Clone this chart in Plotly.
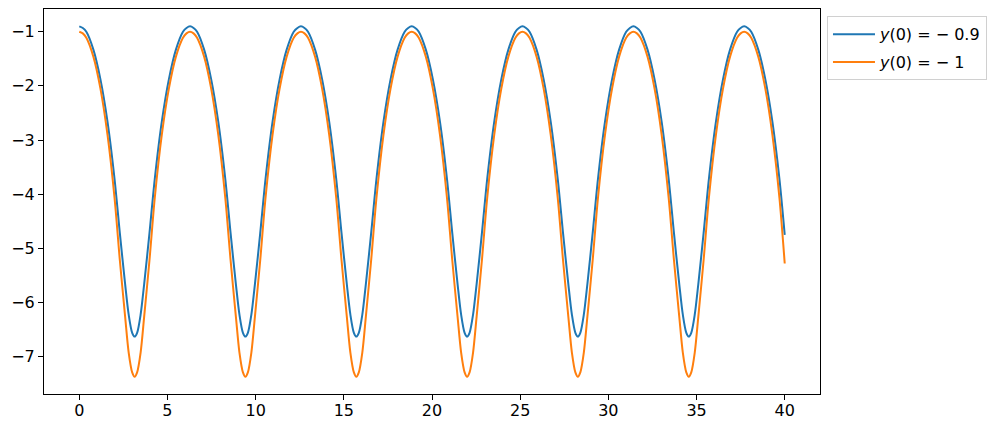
import plotly.graph_objects as go

# time samples (denser near each minimum)
t = [
    0.00, 0.20, 0.40, 0.80, 1.20, 1.60, 2.00, 2.30, 2.60, 2.80, 3.00, 3.14, 3.28, 3.48, 3.68, 3.98, 4.28, 4.68, 5.08, 5.48, 5.88, 6.08,
    6.28, 6.48, 6.68, 7.08, 7.48, 7.88, 8.28, 8.58, 8.88, 9.08, 9.28, 9.42, 9.56, 9.76, 9.96, 10.26, 10.56, 10.96, 11.36, 11.76, 12.16, 12.37,
    12.57, 12.77, 12.97, 13.37, 13.77, 14.17, 14.57, 14.87, 15.17, 15.37, 15.57, 15.71, 15.85, 16.05, 16.25, 16.55, 16.85, 17.25, 17.65, 18.05, 18.45, 18.65,
    18.85, 19.05, 19.25, 19.65, 20.05, 20.45, 20.85, 21.15, 21.45, 21.65, 21.85, 21.99, 22.13, 22.33, 22.53, 22.83, 23.13, 23.53, 23.93, 24.33, 24.73, 24.93,
    25.13, 25.33, 25.53, 25.93, 26.33, 26.73, 27.13, 27.43, 27.73, 27.93, 28.13, 28.27, 28.41, 28.61, 28.81, 29.11, 29.41, 29.81, 30.21, 30.61, 31.01, 31.22,
    31.42, 31.62, 31.82, 32.22, 32.62, 33.02, 33.42, 33.72, 34.02, 34.22, 34.42, 34.56, 34.70, 34.90, 35.10, 35.40, 35.70, 36.10, 36.50, 36.90, 37.30, 37.50,
    37.70, 37.90, 38.10, 38.50, 38.90, 39.30, 39.70, 40.00,
]

y_blue = [
    -0.90, -0.93, -1.00, -1.33, -1.88, -2.66, -3.72, -4.72, -5.66, -6.22, -6.56, -6.63, -6.56, -6.22, -5.66, -4.72, -3.72, -2.66, -1.88, -1.33, -1.00, -0.93,
    -0.90, -0.93, -1.00, -1.33, -1.88, -2.66, -3.72, -4.72, -5.66, -6.22, -6.56, -6.63, -6.56, -6.22, -5.66, -4.72, -3.72, -2.66, -1.88, -1.33, -1.00, -0.93,
    -0.90, -0.93, -1.00, -1.33, -1.88, -2.66, -3.72, -4.72, -5.66, -6.22, -6.56, -6.63, -6.56, -6.22, -5.66, -4.72, -3.72, -2.66, -1.88, -1.33, -1.00, -0.93,
    -0.90, -0.93, -1.00, -1.33, -1.88, -2.66, -3.72, -4.72, -5.66, -6.22, -6.56, -6.63, -6.56, -6.22, -5.66, -4.72, -3.72, -2.66, -1.88, -1.33, -1.00, -0.93,
    -0.90, -0.93, -1.00, -1.33, -1.88, -2.66, -3.72, -4.72, -5.66, -6.22, -6.56, -6.63, -6.56, -6.22, -5.66, -4.72, -3.72, -2.66, -1.88, -1.33, -1.00, -0.93,
    -0.90, -0.93, -1.00, -1.33, -1.88, -2.66, -3.72, -4.72, -5.66, -6.22, -6.56, -6.63, -6.56, -6.22, -5.66, -4.72, -3.72, -2.66, -1.88, -1.33, -1.00, -0.93,
    -0.90, -0.93, -1.00, -1.33, -1.88, -2.66, -3.72, -4.75,
]

y_orange = [
    -1.00, -1.03, -1.11, -1.46, -2.05, -2.90, -4.07, -5.22, -6.26, -6.92, -7.29, -7.37, -7.29, -6.92, -6.26, -5.22, -4.07, -2.90, -2.05, -1.46, -1.11, -1.03,
    -1.00, -1.03, -1.11, -1.46, -2.05, -2.90, -4.07, -5.22, -6.26, -6.92, -7.29, -7.37, -7.29, -6.92, -6.26, -5.22, -4.07, -2.90, -2.05, -1.46, -1.11, -1.03,
    -1.00, -1.03, -1.11, -1.46, -2.05, -2.90, -4.07, -5.22, -6.26, -6.92, -7.29, -7.37, -7.29, -6.92, -6.26, -5.22, -4.07, -2.90, -2.05, -1.46, -1.11, -1.03,
    -1.00, -1.03, -1.11, -1.46, -2.05, -2.90, -4.07, -5.22, -6.26, -6.92, -7.29, -7.37, -7.29, -6.92, -6.26, -5.22, -4.07, -2.90, -2.05, -1.46, -1.11, -1.03,
    -1.00, -1.03, -1.11, -1.46, -2.05, -2.90, -4.07, -5.22, -6.26, -6.92, -7.29, -7.37, -7.29, -6.92, -6.26, -5.22, -4.07, -2.90, -2.05, -1.46, -1.11, -1.03,
    -1.00, -1.03, -1.11, -1.46, -2.05, -2.90, -4.07, -5.22, -6.26, -6.92, -7.29, -7.37, -7.29, -6.92, -6.26, -5.22, -4.07, -2.90, -2.05, -1.46, -1.11, -1.03,
    -1.00, -1.03, -1.11, -1.46, -2.05, -2.90, -4.07, -5.28,
]

series_names = ["<i>y</i>(0) = − 0.9", "<i>y</i>(0) = − 1"]
x_ticks = [0, 5, 10, 15, 20, 25, 30, 35, 40]
y_ticks = [-7, -6, -5, -4, -3, -2, -1]
y_tick_text = ["−7", "−6", "−5", "−4", "−3", "−2", "−1"]

FONT = "DejaVu Sans"

fig = go.Figure()
fig.add_trace(go.Scatter(x=t, y=y_blue, mode="lines", name=series_names[0], legendgroup="a",
                         line=dict(color="#1f77b4", width=2, shape="spline", smoothing=0.8)))
fig.add_trace(go.Scatter(x=t, y=y_orange, mode="lines", name=series_names[1], legendgroup="b",
                         line=dict(color="#ff7f0e", width=2, shape="spline", smoothing=0.8)))

axis_common = dict(showgrid=False, zeroline=False, showline=True, linecolor="black",
                   linewidth=1, mirror=True, ticks="outside", ticklen=5, tickwidth=1,
                   tickcolor="black", automargin=False,
                   tickfont=dict(family=FONT, size=16, color="black"))

fig.update_layout(
    width=991, height=421,
    margin=dict(l=36, r=179, t=1, b=35),
    paper_bgcolor="white", plot_bgcolor="white",
    font=dict(family=FONT, size=16, color="black"),
    xaxis=dict(range=[-2, 42], tickvals=x_ticks, ticklabelstandoff=-3, **axis_common),
    yaxis=dict(range=[-7.69, -0.58], tickvals=y_ticks, ticktext=y_tick_text, **axis_common),
    legend=dict(x=1.009, y=0.981, xanchor="left", yanchor="top",
                bgcolor="rgba(255,255,255,0.8)", bordercolor="#d0d0d0", borderwidth=1,
                font=dict(family=FONT, size=16), tracegroupgap=4, itemwidth=42),
    showlegend=True,
)

fig.write_html("out.html")
